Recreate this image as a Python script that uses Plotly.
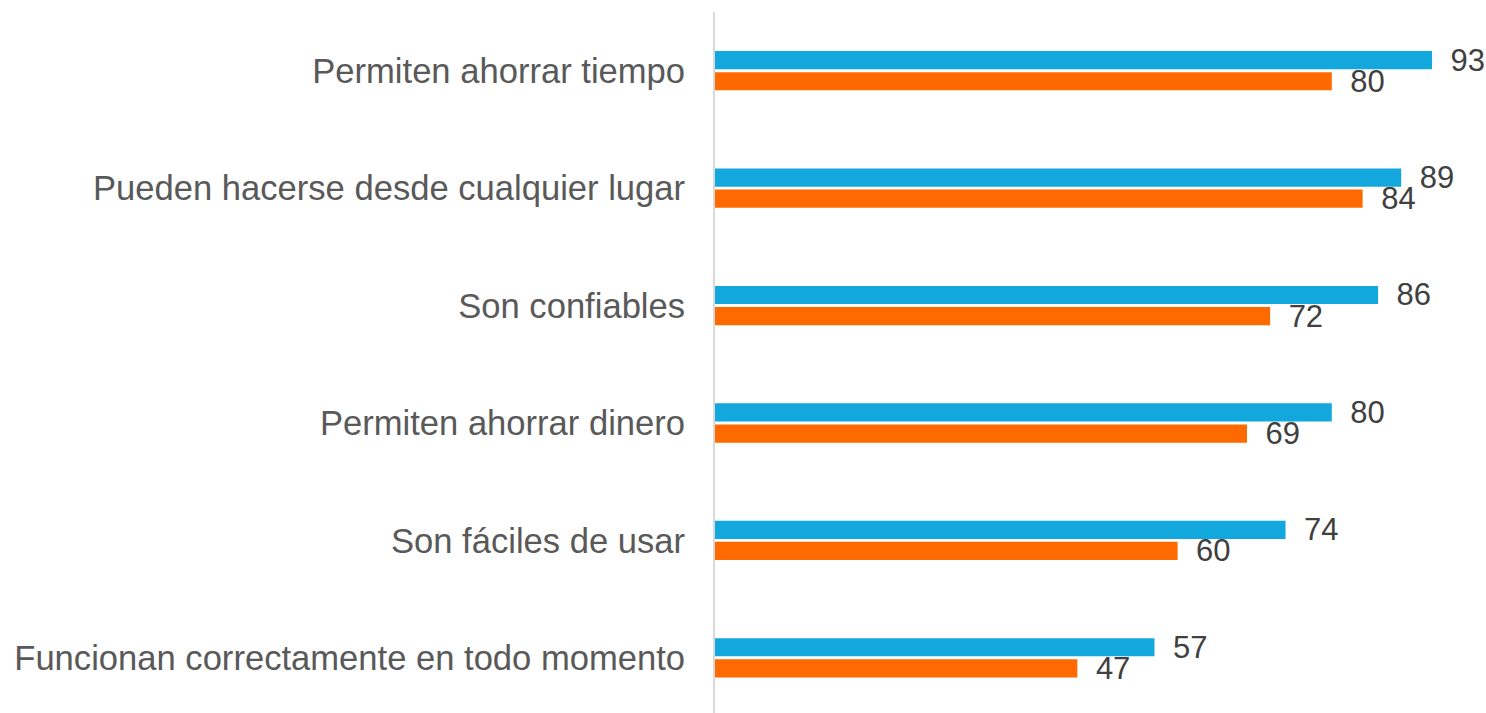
import plotly.graph_objects as go

# categorie dall'alto verso il basso
categorie = [
    "Permiten ahorrar tiempo",
    "Pueden hacerse desde cualquier lugar",
    "Son confiables",
    "Permiten ahorrar dinero",
    "Son fáciles de usar",
    "Funcionan correctamente en todo momento",
]
serie_blu = [93, 89, 86, 80, 74, 57]
serie_arancio = [80, 84, 72, 69, 60, 47]

BLU = "#13A8DD"
ARANCIO = "#FF6A00"
EN_SPACE = "\u2002"

fig = go.Figure()

for valori, colore in [(serie_blu, BLU), (serie_arancio, ARANCIO)]:
    fig.add_trace(
        go.Bar(
            x=valori,
            y=categorie,
            orientation="h",
            marker=dict(color=colore, line=dict(width=0)),
            text=valori,
            texttemplate=EN_SPACE + "%{x}",
            textposition="outside",
            constraintext="none",
            cliponaxis=False,
            textfont=dict(family="Liberation Sans, Arial", size=31, color="#404040"),
            hoverinfo="skip",
        )
    )

fig.update_layout(
    width=1486,
    height=713,
    autosize=False,
    barmode="group",
    bargap=0.64,
    bargroupgap=0.14,
    showlegend=False,
    plot_bgcolor="white",
    paper_bgcolor="white",
    margin=dict(l=715, r=0, t=12, b=0, autoexpand=False),
    xaxis=dict(
        range=[0, 100],
        visible=False,
        showgrid=False,
        zeroline=False,
    ),
    yaxis=dict(
        type="category",
        range=[5.47, -0.5],
        autorange=False,
        showline=True,
        linecolor="#D9D9D9",
        linewidth=2,
        showgrid=False,
        zeroline=False,
        ticks="",
        ticklabelstandoff=21,
        tickfont=dict(family="Liberation Sans, Arial", size=34.6, color="#595959"),
        automargin=False,
    ),
)

# niente margine sul body, cosi' la figura occupa esattamente la finestra
fig.write_html(
    "out.html",
    config={"displayModeBar": False},
    post_script="document.body.style.margin='0px';document.body.style.overflow='hidden';",
)
